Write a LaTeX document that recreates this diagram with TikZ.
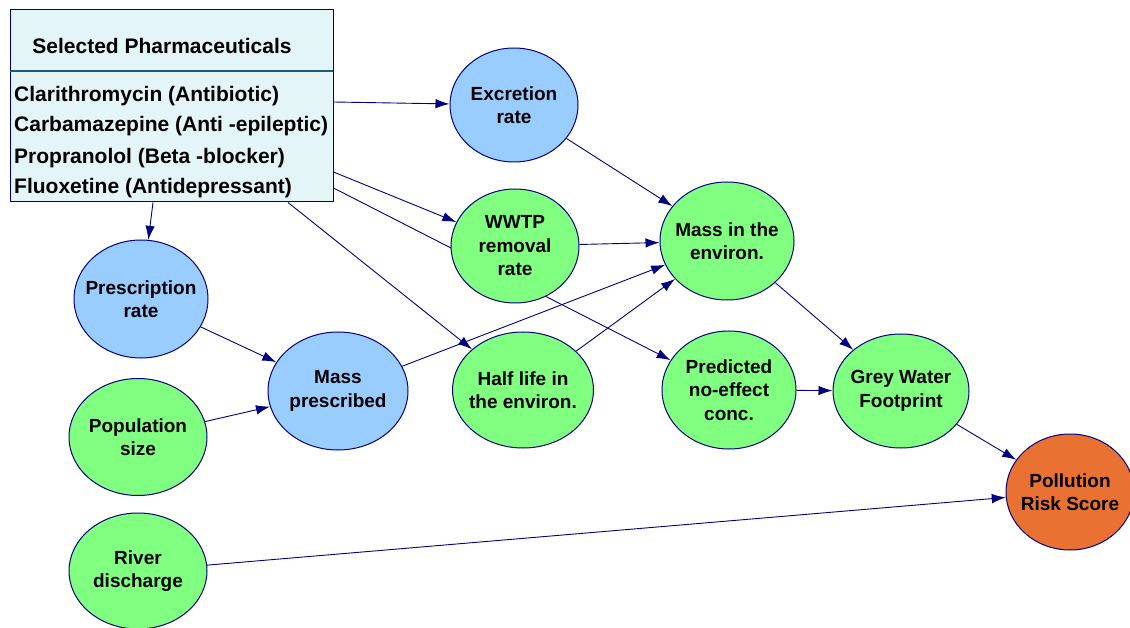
\documentclass[tikz,border=0pt]{standalone}
\usepackage{fontspec}
\setmainfont{Liberation Sans}
\usetikzlibrary{shapes.geometric,arrows.meta,backgrounds}
\definecolor{edgec}{HTML}{000080}
\definecolor{bluen}{HTML}{99CCFF}
\definecolor{greenn}{HTML}{80FF80}
\definecolor{orangen}{HTML}{E97132}
\definecolor{boxfill}{HTML}{E3F5F6}
\definecolor{divc}{HTML}{1F5A78}
\begin{document}
\begin{tikzpicture}[x=1pt,y=-1pt,
  var/.style={ellipse,draw=edgec,line width=1pt,inner sep=0pt,
    label={[align=center,inner sep=0pt,font=\fontsize{19}{23.5}\selectfont\bfseries]center:#1}},
  bluevar/.style={var={#1},fill=bluen},
  greenvar/.style={var={#1},fill=greenn},
  orangevar/.style={var={#1},fill=orangen},
  itemtxt/.style={anchor=west,inner sep=0pt,font=\fontsize{21}{25}\selectfont\bfseries},
  conn/.style={draw=edgec,line width=0.9pt,-{Latex[length=14pt,width=9.5pt]}}]
\useasboundingbox (0,0) rectangle (1130,628);

% pharmaceuticals box
\node[draw=edgec,fill=boxfill,line width=1pt,minimum width=323pt,minimum height=192pt,inner sep=0pt] (box) at (171.5,106) {};
\coordinate (divl) at (10,71);
\coordinate (divr) at (333,71);
\draw[divc,line width=1.5pt] (divl) -- (divr);
\node[inner sep=0pt,font=\fontsize{21}{25}\selectfont\bfseries] (hdr) at (162,46) {Selected Pharmaceuticals};
\node[itemtxt] (it1) at (14,96) {Clarithromycin (Antibiotic)};
\node[itemtxt] (it2) at (14,126) {Carbamazepine (Anti -epileptic)};
\node[itemtxt] (it3) at (14,158) {Propranolol (Beta -blocker)};
\node[itemtxt] (it4) at (14,188) {Fluoxetine (Antidepressant)};

% variables
\node[bluevar={Excretion\\rate},minimum width=128pt,minimum height=114pt] (excr) at (514,105) {};
\node[greenvar={WWTP\\removal\\rate},minimum width=128pt,minimum height=114pt] (wwtp) at (515,246) {};
\node[greenvar={Mass in the\\environ.},minimum width=134pt,minimum height=118pt] (menv) at (727,241) {};
\node[bluevar={Prescription\\rate},minimum width=134pt,minimum height=118pt] (presc) at (141,299) {};
\node[bluevar={Mass\\prescribed},minimum width=140pt,minimum height=118pt] (mpresc) at (338,391) {};
\node[greenvar={Half life in\\the environ.},minimum width=141pt,minimum height=116pt] (half) at (523,390) {};
\node[greenvar={Predicted\\no-effect\\conc.},minimum width=134pt,minimum height=118pt] (pnec) at (729,390) {};
\node[greenvar={Grey Water\\Footprint},minimum width=136pt,minimum height=114pt] (grey) at (901,391) {};
\node[greenvar={Population\\size},minimum width=138pt,minimum height=117pt] (pop) at (138,437) {};
\node[greenvar={River\\discharge},minimum width=138pt,minimum height=116pt] (river) at (138,571) {};
\node[orangevar={Pollution\\Risk Score},minimum width=128pt,minimum height=116pt] (risk) at (1070,492) {};

% connectors
\begin{scope}[on background layer]
\draw[conn] ([yshift=4pt]box.east) -- (excr);
\draw[conn] ([yshift=-66pt]box.east) -- (wwtp);
\draw[conn] ([yshift=-82pt]box.east) -- (pnec);
\draw[conn] ([xshift=116.5pt]box.south) -- (half);
\draw[conn] ([xshift=-18.5pt]box.south) -- (presc);
\draw[conn] (excr) -- (menv);
\draw[conn] (wwtp) -- (menv);
\draw[conn] (mpresc) -- (menv);
\draw[conn] (half) -- (menv);
\draw[conn] (presc) -- (mpresc);
\draw[conn] (pop) -- (mpresc);
\draw[conn] (menv) -- (grey);
\draw[conn] (pnec) -- (grey);
\draw[conn] (grey) -- (risk);
\draw[conn] (river) -- (risk);
\end{scope}
\end{tikzpicture}
\end{document}
